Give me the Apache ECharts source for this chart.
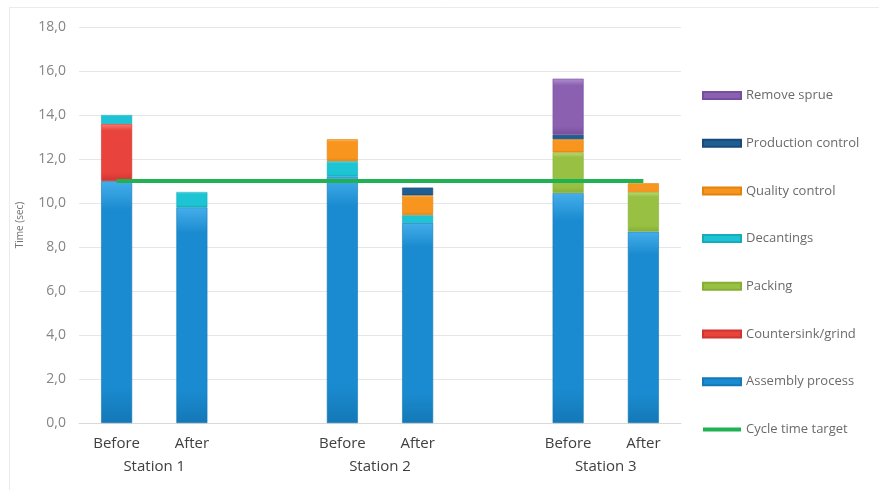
<!DOCTYPE html>
<html>
<head>
<meta charset="utf-8">
<script src="https://cdn.jsdelivr.net/npm/echarts@6/dist/echarts.min.js"></script>
<style>
  html, body { margin: 0; padding: 0; background: #ffffff; }
  #chart { width: 879px; height: 490px; }
</style>
</head>
<body>
<div id="chart"></div>
<script>
// Category slots: Before/After per station, with an empty slot between stations
const categories = ['Before', 'After', '', 'Before', 'After', '', 'Before', 'After'];
const stations = ['Station 1', 'Station 2', 'Station 3'];
const stationPositions = [1, 4, 7];

// Time per operation (sec), one value per category slot
const assemblyProcess   = [11.0, 9.8, null, 11.2, 9.1, null, 10.45, 8.7];
const countersinkGrind  = [2.6, null, null, null, null, null, null, null];
const packing           = [null, null, null, null, null, null, 1.85, 1.8];
const decantings        = [0.4, 0.7, null, 0.7, 0.35, null, null, null];
const qualityControl    = [null, null, null, 1.0, 0.9, null, 0.6, 0.4];
const productionControl = [null, null, null, null, 0.35, null, 0.2, null];
const removeSprue       = [null, null, null, null, null, null, 2.55, null];
const cycleTimeTarget   = [11, 11, 11, 11, 11, 11, 11, 11];

const yTicks = { min: 0, max: 18, interval: 2 };

function bevel(light, base, dark) {
  return {
    type: 'linear', x: 0, y: 0, x2: 0, y2: 1,
    colorStops: [
      { offset: 0, color: light },
      { offset: 0.12, color: base },
      { offset: 0.85, color: base },
      { offset: 1, color: dark }
    ]
  };
}

const barSpecs = [
  { name: 'Assembly process',   data: assemblyProcess,   c: ['#45aeea', '#1a8bd0', '#1478b6'] },
  { name: 'Countersink/grind',  data: countersinkGrind,  c: ['#f47f76', '#e8433c', '#cf352f'] },
  { name: 'Packing',            data: packing,           c: ['#bcdb72', '#98c143', '#86ae35'] },
  { name: 'Decantings',         data: decantings,        c: ['#7fe6f0', '#1cc4d4', '#15adbc'] },
  { name: 'Quality control',    data: qualityControl,    c: ['#fcbc66', '#f7951f', '#e4820f'] },
  { name: 'Production control', data: productionControl, c: ['#4a8fc6', '#1f5e93', '#17497a'] },
  { name: 'Remove sprue',       data: removeSprue,       c: ['#b08fd0', '#8b60b1', '#774e9c'] }
];

const series = barSpecs.map(s => ({
  name: s.name,
  type: 'bar',
  stack: 'time',
  barWidth: 31,
  data: s.data,
  itemStyle: {
    color: bevel(s.c[0], s.c[1], s.c[2]),
    borderColor: s.c[2],
    borderWidth: 0.6
  },
  emphasis: { disabled: true }
}));

series.push({
  name: 'Cycle time target',
  type: 'line',
  data: cycleTimeTarget,
  symbol: 'none',
  lineStyle: { color: '#20b153', width: 4 },
  itemStyle: { color: '#20b153' },
  z: 5
});

const chart = echarts.init(document.getElementById('chart'), null, { renderer: 'canvas' });

chart.setOption({
  animation: false,
  backgroundColor: '#ffffff',
  textStyle: { fontFamily: 'Open Sans' },
  graphic: [{
    type: 'rect',
    shape: { x: 9.5, y: 7.5, width: 900, height: 500 },
    style: { fill: 'none', stroke: '#ebebeb', lineWidth: 1 },
    silent: true
  }],
  grid: { left: 79, right: 198, top: 27, bottom: 67, outerBoundsMode: 'none', containLabel: false },
  legend: {
    orient: 'vertical',
    left: 702,
    top: 89,
    padding: 0,
    itemWidth: 38,
    itemHeight: 7,
    itemGap: 34.7,
    icon: 'rect',
    selectedMode: false,
    data: ['Remove sprue', 'Production control', 'Quality control', 'Decantings',
           'Packing', 'Countersink/grind', 'Assembly process',
           { name: 'Cycle time target', icon: 'path://M0,0H38V4H0Z' }],
    textStyle: { fontFamily: 'Open Sans', fontSize: 13, color: '#6b6b6b' }
  },
  xAxis: [{
    type: 'category',
    data: categories,
    axisLine: { lineStyle: { color: '#d9d9d9' } },
    axisTick: { show: false },
    axisLabel: { interval: 0, fontFamily: 'Open Sans', fontSize: 15, color: '#404040', margin: 13 }
  }, {
    type: 'value',
    min: 0,
    max: 8,
    position: 'bottom',
    offset: 23,
    axisLine: { show: false },
    axisTick: { show: false },
    splitLine: { show: false },
    axisLabel: {
      customValues: stationPositions,
      formatter: v => stations[stationPositions.indexOf(v)] || '',
      fontFamily: 'Open Sans', fontSize: 15, color: '#404040', margin: 13
    }
  }],
  yAxis: {
    type: 'value',
    min: yTicks.min,
    max: yTicks.max,
    interval: yTicks.interval,
    name: 'Time (sec)',
    nameLocation: 'middle',
    nameRotate: 90,
    nameGap: 54,
    nameTextStyle: { fontFamily: 'Open Sans', fontSize: 10, color: '#737373' },
    axisLine: { show: false },
    axisTick: { show: false },
    splitLine: { lineStyle: { color: '#e6e6e6' } },
    axisLabel: {
      formatter: v => v.toFixed(1).replace('.', ','),
      fontFamily: 'Open Sans', fontSize: 14, color: '#858585', margin: 13
    }
  },
  series: series
});
</script>
</body>
</html>
